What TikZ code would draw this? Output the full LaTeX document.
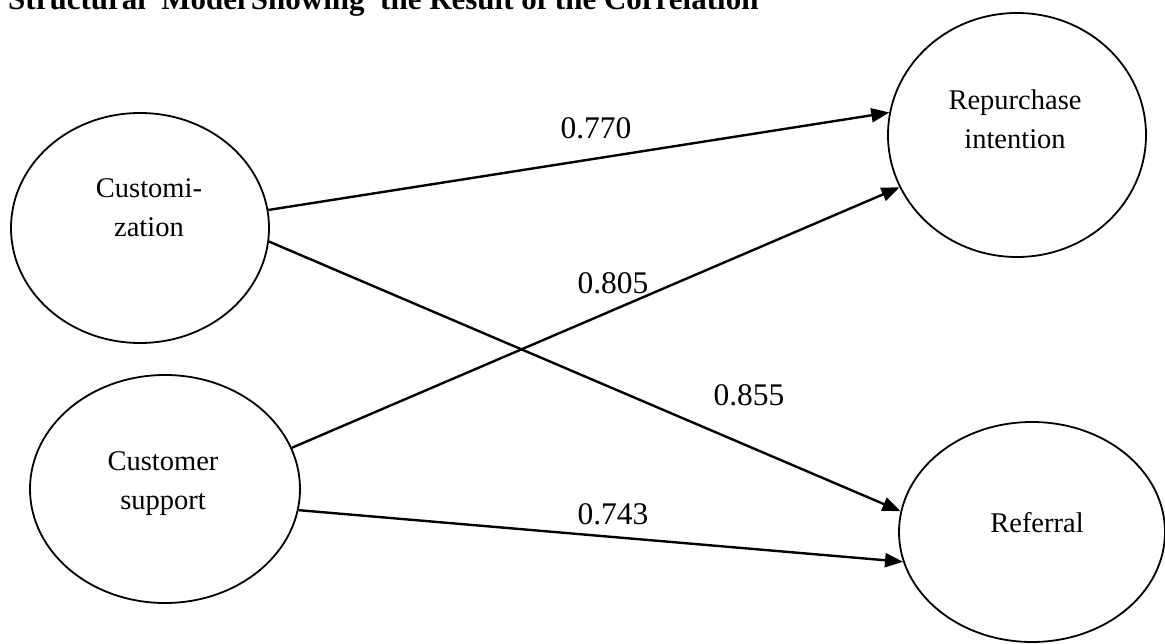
\documentclass[tikz,border=0pt]{standalone}
\usepackage{fontspec}
\setmainfont{Liberation Serif}
\usepackage{tikz}
\usetikzlibrary{shapes.geometric,arrows.meta}

\newcommand{\varfont}{\fontsize{28.5}{39}\selectfont}
\newcommand{\coeffont}{\fontsize{31.5}{36}\selectfont}

\tikzset{
    construct/.style={draw, ellipse, line width=1.8pt, inner sep=0pt},
    varlabel/.style={align=center, font=\varfont},
    effect/.style={-{Triangle[length=18pt,width=14pt]}, line width=2.4pt},
    coef/.style={font=\coeffont, inner sep=0pt}
}

\begin{document}
\begin{tikzpicture}[x=1pt, y=-1pt]
        \useasboundingbox (0,0) rectangle (1165,644);

        \node (title) [anchor=base west, inner sep=0pt, font=\fontsize{31}{36}\selectfont\bfseries] at (8,10) {Structural\ \ Model\,Showing\ \ the Result of the Correlation};

        \node (cust) [construct, minimum width=258pt, minimum height=230pt, label={[varlabel, shift={(9pt,20pt)}]center:Customi-\\zation}] at (140,228) {};
        \node (supp) [construct, minimum width=270pt, minimum height=228pt, label={[varlabel, shift={(-2pt,5pt)}]center:Customer\\support}] at (165,489) {};
        \node (rep) [construct, minimum width=258pt, minimum height=244pt, label={[varlabel, shift={(-2pt,16pt)}]center:Repurchase\\intention}] at (1017,135) {};
        \node (ref) [construct, minimum width=266pt, minimum height=220pt, label={[varlabel, shift={(5pt,9pt)}]center:Referral}] at (1032,532) {};

        \foreach \i/\a/\j/\b in {cust/8.7/rep/170.3, cust/354.3/ref/171.7, supp/18.2/rep/204, supp/351/ref/193.5} {
            \draw[effect] (\i.\a) -- (\j.\b);
        }

        \node (c770) [coef] at (596,128) {0.770};
        \node (c805) [coef] at (613,283) {0.805};
        \node (c855) [coef] at (749,395) {0.855};
        \node (c743) [coef] at (613,514) {0.743};
    \end{tikzpicture}
\end{document}
